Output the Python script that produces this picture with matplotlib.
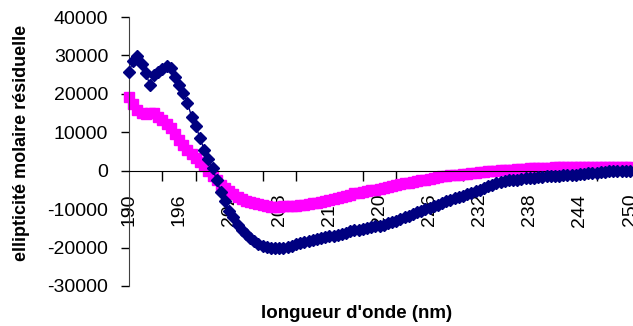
import numpy as np
import matplotlib
matplotlib.use("Agg")
import matplotlib.pyplot as plt

# wavelengths, 0.5 nm step from 190 to 250 nm
wavelength = np.arange(190, 250.01, 0.5)

# series 1 (navy diamonds)
blue = [
    25800, 28500, 29800, 27800, 25500, 22300, 25000, 25800, 26400, 27300,
    26800, 24500, 22400, 20200, 17600, 14100, 11700, 8500, 5500, 3000,
    700, -2500, -5500, -8000, -10500, -12000, -14000, -15300, -16500, -17500,
    -18300, -19000, -19500, -19800, -20000, -20000, -20000, -20000, -19800, -19500,
    -19200, -18800, -18500, -18200, -17900, -17700, -17500, -17200, -17100, -16900,
    -16600, -16400, -16100, -15800, -15500, -15300, -15100, -14900, -14700, -14500,
    -14300, -14000, -13700, -13300, -13000, -12600, -12100, -11700, -11200, -10800,
    -10400, -10000, -9600, -9200, -8800, -8400, -8000, -7600, -7200, -6900,
    -6500, -6100, -5700, -5300, -5000, -4500, -4000, -3600, -3200, -2900,
    -2700, -2500, -2400, -2300, -2100, -2000, -1900, -1800, -1700, -1600,
    -1500, -1500, -1400, -1300, -1200, -1100, -1000, -1000, -900, -800,
    -700, -600, -500, -400, -300, -200, -200, -100, -100, 0,
    0,
]

# series 2 (magenta squares)
magenta = [
    19100, 17300, 15800, 15000, 14800, 15100, 14900, 13900, 13100, 12200,
    11000, 9500, 8100, 6700, 5400, 4300, 3300, 2200, 1100, 0,
    -1300, -2500, -3600, -4500, -5400, -6100, -6800, -7300, -7800, -8100,
    -8400, -8700, -9000, -9200, -9400, -9500, -9400, -9300, -9200, -9100,
    -9100, -9000, -8900, -8700, -8500, -8300, -8200, -7900, -7600, -7300,
    -7000, -6800, -6500, -6200, -5900, -5700, -5500, -5300, -5100, -5000,
    -4800, -4500, -4200, -4000, -3700, -3500, -3300, -3100, -2900, -2700,
    -2500, -2300, -2100, -1900, -1700, -1500, -1300, -1200, -1100, -1000,
    -900, -800, -600, -500, -400, -300, -200, -100, 0, 100,
    200, 300, 300, 400, 500, 500, 600, 700, 700, 800,
    800, 800, 900, 900, 900, 900, 900, 900, 900, 900,
    900, 900, 900, 900, 900, 900, 900, 900, 900, 900,
    900,
]

x_labels = np.arange(190, 251, 6)
x_tick_marks = np.arange(194, 251, 4)
y_ticks = np.arange(-30000, 40001, 10000)

plt.rcParams.update({
    "font.family": "Liberation Sans",
    "axes.unicode_minus": False,
})

fig = plt.figure(figsize=(6.33, 3.26), dpi=100)
ax = fig.add_axes([129 / 633, 1 - 286 / 326, 501 / 633, 269 / 326])

ax.plot(wavelength, magenta, color="#FF00FF", marker="s", markersize=6.5,
        linewidth=1, clip_on=False, zorder=2)
ax.plot(wavelength, blue, color="#000080", marker="D", markersize=6,
        linewidth=1, clip_on=False, zorder=3)

ax.set_xlim(190, 250)
ax.set_ylim(-30000, 40000)

ax.spines["top"].set_visible(False)
ax.spines["right"].set_visible(False)
ax.spines["bottom"].set_position(("data", 0))
ax.spines["left"].set_color("#404040")

ax.set_yticks(y_ticks)
ax.tick_params(axis="y", direction="out", length=6, width=1, pad=9,
               labelsize=14, colors="black")

ax.set_xticks(x_labels)
ax.set_xticklabels([str(v) for v in x_labels], rotation=90, va="top")
ax.set_xticks(x_tick_marks, minor=True)
ax.tick_params(axis="x", which="major", length=0, pad=16.5, labelsize=14)
ax.tick_params(axis="x", which="minor", direction="out", length=7, width=1)

fig.text(22 / 633, 1 - 143 / 326, "ellipticité molaire résiduelle",
         rotation=90, ha="center", va="center", fontsize=13, fontweight="bold")
fig.text(357 / 633, 1 - 314 / 326, "longueur d'onde (nm)",
         ha="center", va="center", fontsize=13.5, fontweight="bold")

fig.savefig("out.png", dpi=100)
